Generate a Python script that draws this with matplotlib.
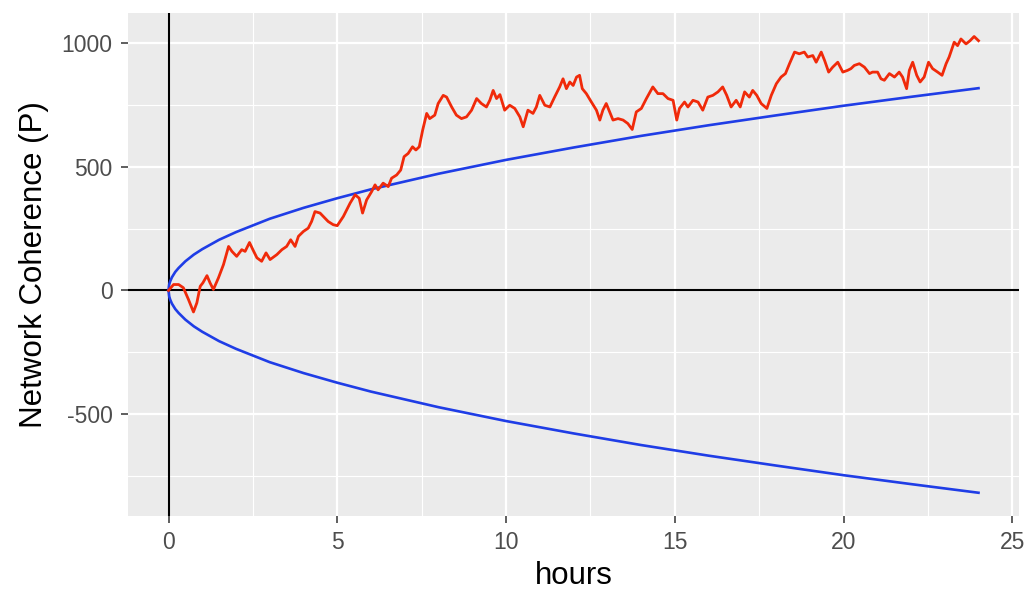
import matplotlib
matplotlib.use("Agg")
import matplotlib.pyplot as plt
from matplotlib.ticker import MultipleLocator

hours = [0.00, 0.15, 0.30, 0.44, 0.59, 0.74, 0.84, 0.94, 1.02, 1.14, 1.23, 1.33, 1.48, 1.63,
         1.78, 1.88, 2.02, 2.17, 2.27, 2.40, 2.50, 2.62, 2.76, 2.89, 3.01, 3.21, 3.36, 3.50,
         3.62, 3.75, 3.85, 4.00, 4.14, 4.24, 4.34, 4.49, 4.59, 4.73, 4.88, 5.00, 5.18, 5.38,
         5.53, 5.65, 5.75, 5.87, 6.02, 6.12, 6.21, 6.36, 6.51, 6.61, 6.76, 6.88, 6.98, 7.10,
         7.23, 7.33, 7.43, 7.53, 7.65, 7.74, 7.89, 7.99, 8.14, 8.24, 8.39, 8.53, 8.68, 8.83,
         8.98, 9.13, 9.27, 9.42, 9.52, 9.62, 9.72, 9.82, 9.96, 10.11, 10.26, 10.41, 10.51,
         10.65, 10.80, 10.90, 11.00, 11.15, 11.30, 11.44, 11.59, 11.69, 11.79, 11.89, 11.99,
         12.09, 12.18, 12.26, 12.38, 12.53, 12.68, 12.78, 12.87, 12.97, 13.07, 13.17, 13.32,
         13.47, 13.61, 13.74, 13.86, 14.01, 14.16, 14.35, 14.50, 14.65, 14.80, 14.95, 15.06,
         15.14, 15.29, 15.39, 15.54, 15.69, 15.83, 15.98, 16.13, 16.28, 16.42, 16.54, 16.67,
         16.82, 16.94, 17.07, 17.21, 17.31, 17.43, 17.56, 17.73, 17.86, 18.01, 18.15, 18.28,
         18.40, 18.55, 18.69, 18.84, 18.94, 19.09, 19.19, 19.34, 19.44, 19.56, 19.68, 19.83,
         19.98, 20.12, 20.22, 20.32, 20.47, 20.62, 20.77, 20.86, 21.01, 21.11, 21.21, 21.36,
         21.51, 21.65, 21.75, 21.87, 21.95, 22.05, 22.17, 22.27, 22.39, 22.52, 22.64, 22.79,
         22.92, 23.04, 23.13, 23.28, 23.38, 23.48, 23.63, 23.75, 23.87, 24.00]
coherence = [0, 24, 24, 11, -36, -87, -50, 17, 31, 60, 31, 4, 51, 105,
             178, 158, 138, 165, 158, 194, 165, 132, 118, 152, 125, 145, 165, 178,
             205, 178, 219, 239, 252, 279, 319, 313, 299, 279, 266, 262, 299, 353,
             387, 373, 313, 366, 400, 427, 407, 434, 420, 454, 467, 487, 541, 554,
             581, 568, 581, 648, 716, 695, 709, 756, 789, 782, 742, 709, 695, 702,
             729, 776, 756, 742, 769, 809, 776, 792, 729, 749, 736, 702, 662,
             729, 716, 742, 789, 749, 742, 782, 823, 856, 816, 843, 829,
             863, 870, 816, 796, 762, 729, 689, 729, 756, 722, 689, 695,
             689, 675, 651, 722, 736, 776, 823, 796, 796, 776, 769, 689,
             736, 762, 742, 769, 762, 729, 782, 789, 803, 823, 789, 742,
             769, 742, 803, 782, 809, 789, 756, 736, 789, 836, 863, 877,
             917, 964, 957, 964, 944, 950, 923, 964, 930, 883, 903, 923,
             883, 890, 897, 910, 917, 903, 877, 883, 883, 856, 850, 877,
             863, 883, 863, 816, 890, 923, 870, 843, 863, 923, 897, 883,
             870, 917, 944, 1004, 990, 1017, 997, 1010, 1027, 1010]

# expected envelope (blue)
env_hours = [0, 0.02, 0.05, 0.1, 0.2, 0.3, 0.5, 0.75, 1, 1.5, 2, 3, 4, 5, 6, 8, 10, 12, 14,
             16, 18, 20, 22, 24]
env_upper = [0, 24, 37, 53, 75, 91, 118, 145, 167, 205, 236, 290, 334, 373, 409, 472, 528,
             578, 625, 668, 708, 747, 783, 818]
env_lower = [-v for v in env_upper]

x_ticks = [0, 5, 10, 15, 20, 25]
y_ticks = [-500, 0, 500, 1000]

plt.rcParams['font.family'] = ['Liberation Sans', 'DejaVu Sans']
plt.rcParams['axes.unicode_minus'] = False

fig = plt.figure(figsize=(10.29, 5.94), dpi=100)
ax = fig.add_axes([128 / 1029, 78 / 594, 891 / 1029, 503 / 594])
ax.set_facecolor('#EBEBEB')

ax.set_xlim(-1.2, 25.2)
ax.set_ylim(-912, 1122)
ax.set_xticks(x_ticks)
ax.set_yticks(y_ticks)
ax.xaxis.set_minor_locator(MultipleLocator(2.5))
ax.yaxis.set_minor_locator(MultipleLocator(250))
ax.grid(which='major', color='white', linewidth=1.6)
ax.grid(which='minor', color='white', linewidth=0.8)
ax.set_axisbelow(True)
for s in ax.spines.values():
    s.set_visible(False)

ax.tick_params(which='major', length=5, width=1.1, color='#333333',
               labelsize=16.5, labelcolor='#4D4D4D')
ax.tick_params(axis='y', pad=6)
ax.tick_params(axis='x', pad=6)
ax.tick_params(which='minor', length=0)

ax.axhline(0, color='black', linewidth=1.5, zorder=2)
ax.axvline(0, color='black', linewidth=1.5, zorder=2)

ax.plot(env_hours, env_upper, color='#1F3DE6', linewidth=1.9, zorder=3)
ax.plot(env_hours, env_lower, color='#1F3DE6', linewidth=1.9, zorder=3)
ax.plot(hours, coherence, color='#F02A0A', linewidth=2.0, zorder=4)

ax.set_xlabel('hours', fontsize=22.5, labelpad=5)
ax.set_ylabel('Network Coherence (P)', fontsize=22.5, labelpad=9)

fig.savefig('out.png', dpi=100)
